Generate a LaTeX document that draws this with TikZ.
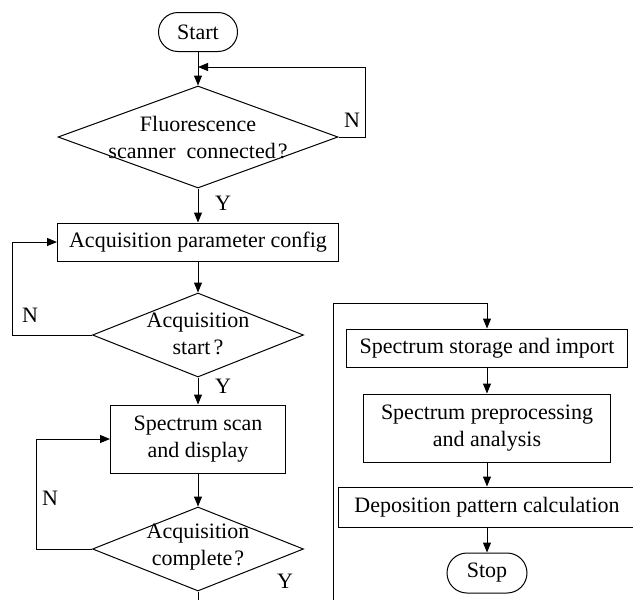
\documentclass[tikz,border=0pt]{standalone}
\usepackage{fontspec}
\setmainfont{Liberation Serif}
\usetikzlibrary{shapes.geometric,arrows.meta}
\begin{document}
\begin{tikzpicture}[x=1pt,y=-1pt,
  font=\fontsize{22}{27}\selectfont,
  base/.style={draw, line width=1pt, inner sep=0pt, align=center},
  term/.style={base, rounded corners=19.5pt, minimum width=79pt, minimum height=39pt},
  proc/.style={base, rectangle},
  dec/.style={base, diamond},
  lbl/.style={inner sep=0pt, align=center},
  arr/.style={-{Triangle[length=10pt,width=8pt]}, line width=1pt},
  ln/.style={line width=1pt}]
\useasboundingbox (0,0) rectangle (633,600);
\clip (0,0) rectangle (633,600);
% left column
\node[term] (start) at (198,32) {Start};
\node[dec, minimum width=280pt, minimum height=102pt] (d1) at (198,137) {};
\node[lbl] (t1) at (198,137.5) {Fluorescence\\scanner\ \ connected\kern2pt?};
\coordinate (j1) at (198,67);
\draw[arr] (start.south) -- (d1.north);
\draw[arr] (d1.east) -- (365,137) |- (j1);
\node[lbl] (n1) at (352,120) {N};
\node[lbl] (y1) at (223,203) {Y};
\node[proc, minimum width=281pt, minimum height=38pt] (p1) at (198,242) {Acquisition parameter config};
\draw[arr] (d1.south) -- (p1.north);
\node[dec, minimum width=211pt, minimum height=84pt] (d2) at (198,335) {};
\node[lbl] (t2) at (198,333.5) {Acquisition\\start\kern3pt?};
\draw[arr] (p1.south) -- (d2.north);
\draw[arr] (d2.west) -- (12,335) |- (p1.west);
\node[lbl] (n2) at (30,315) {N};
\node[lbl] (y2) at (223,386) {Y};
\node[proc, minimum width=175pt, minimum height=68pt] (p2) at (198,439) {Spectrum scan\\and display};
\draw[arr] (d2.south) -- (p2.north);
\node[dec, minimum width=211pt, minimum height=84pt] (d3) at (198,549) {};
\node[lbl] (t3) at (198,547) {Acquisition\\complete\kern2pt?};
\draw[arr] (p2.south) -- (d3.north);
\draw[arr] (d3.west) -- (36,549) |- (p2.west);
\node[lbl] (n3) at (50,498) {N};
\node[lbl] (y3) at (285,581) {Y};
\coordinate (e1) at (198,605);
\draw[ln] (d3.south) -- (e1);
% right column
\coordinate (e2) at (333,605);
\node[proc, minimum width=281pt, minimum height=38pt] (q1) at (487,348) {Spectrum storage and import};
\draw[arr] (e2) -- (333,303) -| (q1.north);
\node[proc, minimum width=247pt, minimum height=68pt] (q2) at (487,428) {Spectrum preprocessing\\and analysis};
\draw[arr] (q1.south) -- (q2.north);
\node[proc, minimum width=298pt, minimum height=40pt] (q3) at (487,507) {Deposition pattern calculation};
\draw[arr] (q2.south) -- (q3.north);
\node[term, minimum width=80pt, minimum height=40pt, rounded corners=20pt] (stop) at (487,573) {Stop};
\draw[arr] (q3.south) -- (stop.north);
\end{tikzpicture}
\end{document}
